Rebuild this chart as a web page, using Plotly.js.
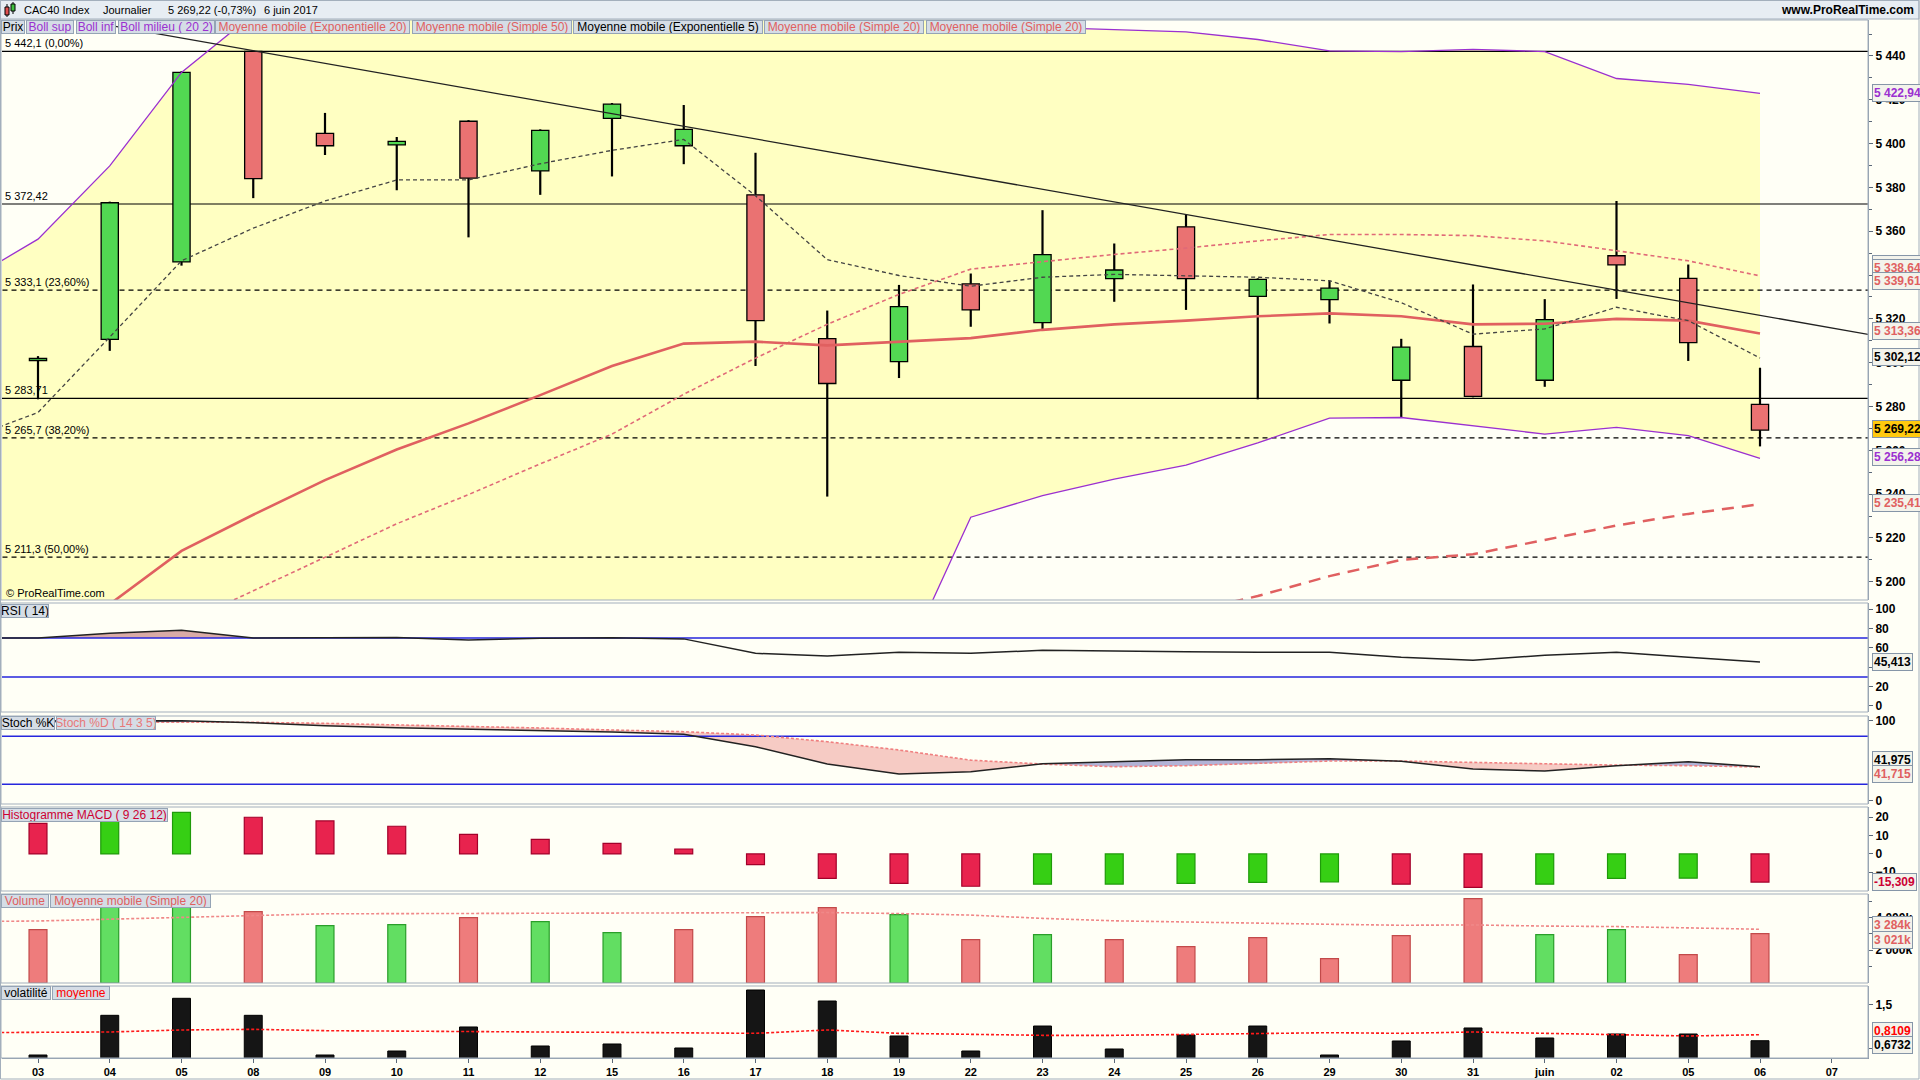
<!DOCTYPE html>
<html><head><meta charset="utf-8">
<script src="https://cdn.plot.ly/plotly-3.0.1.min.js"></script>
<style>html,body{margin:0;padding:0;background:#fffff6;overflow:hidden}#chart{width:1920px;height:1080px}</style>
</head><body><div id="chart"></div>
<script>
// ---------- DATA (CAC40 Index, daily, 3 May - 6 June 2017) ----------
const dayLabels = ['03','04','05','08','09','10','11','12','15','16','17','18','19','22','23','24','25','26','29','30','31','juin','02','05','06','07'];
const openP  = [5301,5310.6,5346,5442.1,5404.7,5399.4,5410.2,5387.5,5411.5,5399,5376.6,5311,5300.5,5336,5318.3,5338.4,5362,5330.3,5328.8,5292,5307.4,5292,5348.8,5338.5,5281];
const highP  = [5303,5373.5,5433,5442.1,5414,5403,5410.7,5406.5,5418.5,5417.6,5395.8,5323.8,5335.5,5340.7,5369.6,5354.4,5367.6,5338.5,5337.4,5310.9,5335.7,5329,5373.8,5344.8,5297.7];
const lowP   = [5283.3,5305.4,5344.3,5375.1,5394.8,5378.7,5357.2,5376.6,5385,5390.6,5298.5,5238.9,5293,5316.4,5315.4,5327.8,5324.1,5283.3,5317.9,5274.8,5284.2,5289,5329.1,5300.8,5261.8];
const closeP = [5302,5373,5432.5,5384,5399,5401,5384.2,5406,5418,5406.5,5319.2,5290.5,5325.6,5324.1,5349.3,5342.3,5338.4,5338,5334,5307.1,5284.6,5319.7,5344.6,5309.2,5269.22];
const prevClose = 5304;       // close of the session before 03 (02 mai)

// indicator series: first value = session before 03 (02 mai), then 03 .. 06 juin
const ema5   = [5265,5277.3,5311.7,5346.5,5361.4,5373.8,5383.4,5383.4,5390.8,5396.9,5401.9,5376.2,5347,5339.8,5334.9,5339,5340.3,5339.8,5339,5337.4,5327.4,5313,5315.4,5325.3,5319.2,5302.12];
const sma20  = [5145,5155,5168,5180.6,5195.9,5211.3,5226.5,5239.8,5253.8,5267.4,5285.6,5302.1,5317.5,5331.2,5342.7,5346.1,5349.4,5352.3,5355.6,5358.5,5358.5,5358,5355.6,5351.1,5346.5,5339.61];
const ema20  = [5165,5176,5189.8,5214.1,5230.6,5246.4,5260.4,5272.3,5285.2,5298.5,5308.7,5309.6,5307.9,5309.6,5311.2,5315,5317.5,5319.2,5321.2,5322.5,5321.2,5317.5,5317.8,5320,5319.2,5313.36];
const bollSup= [5337,5356.4,5389.8,5432.5,5459,5470,5478,5484,5490,5495,5500,5505,5506,5504,5456,5453,5452,5451,5447.5,5442.3,5442,5443,5442,5429.7,5427,5422.94];
const bollInf= [4953,4954,4946,4929,4933,4953,4975,4996,5018,5040,5071,5099,5129,5158,5229.5,5239.3,5246.9,5253.3,5263.4,5274.7,5275,5271.2,5267.4,5270.5,5266.7,5256.28];
const bollMidOther = 5338.64;  // Boll milieu / 2nd SMA20 labels
// SMA50: last 10 sessions (24 mai .. 06 juin)
const sma50  = [5179,5186,5193.5,5202.6,5210,5212.6,5219.1,5225.7,5231,5235.41];

// horizontal levels (Fibonacci / supports)
const hLevels = [5442.1,5372.42,5333.1,5283.71,5265.7,5211.3];
const hTexts  = ['5 442,1 (0,00%)','5 372,42','5 333,1 (23,60%)','5 283,71','5 265,7 (38,20%)','5 211,3 (50,00%)'];
const hDashed = [false,false,true,false,true,true];
// trend line (session index, price)
const trendX = [1.0, 25.6];
const trendY = [5453.9, 5312.4];

// RSI(14) and stochastic (first value = 02 mai)
const rsi    = [69.8,70.2,74.9,78,70.2,70.3,70.5,68,69.8,70.4,69.2,54.3,51.5,55.3,54.3,57.4,56.4,56,55.3,55.3,50.2,47.1,52.3,55.3,50.2,45.413];
const stochK = [99,99,99.5,99.5,97,93.3,90.8,89.1,87,85.4,82.5,67,45.4,32.9,35.8,45.8,48.3,50.8,50.8,52,48.8,39.1,36.6,43.3,48.3,41.975];
const stochD = [95,96.2,97.5,97.5,97.5,96.2,94.5,92.5,90.4,87.9,85.8,81.6,73.3,62.9,50.2,45.3,42,43.3,45.8,49.1,49.1,47.4,45.8,44,43.3,41.715];
// MACD histogram (03 .. 06)
const macdPrev = 18;
const macd   = [16.7,19,22.7,20,18,15.1,10.7,8,5.8,2.7,-5.8,-13.3,-16,-17.6,-16.5,-16.4,-16,-15.5,-15.3,-16.5,-18.2,-16.5,-13.3,-13.2,-15.309];
// Volume in thousands (03 .. 06) and its SMA20 (02 mai .. 06)
const volume = [3266,4900,5000,4367,3511,3572,4000,3755,3083,3266,4061,4612,4183,2654,2960,2654,2226,2777,1492,2899,5162,2960,3266,1737,3021];
const volMA  = [3750,3790,3900,4000,4100,4230,4240,4250,4245,4240,4250,4265,4306,4245,4150,3950,3800,3730,3680,3590,3530,3550,3480,3450,3370,3284];
// Volatility (03 .. 06) and its average (02 mai .. 06)
const volat  = [0.345,1.257,1.648,1.257,0.345,0.437,0.989,0.552,0.598,0.506,1.839,1.586,0.782,0.437,1.011,0.483,0.805,1.011,0.345,0.667,0.966,0.736,0.828,0.828,0.6732];
const volatMA= [0.858,0.858,0.874,0.92,0.935,0.904,0.889,0.889,0.874,0.866,0.858,0.843,0.92,0.843,0.82,0.797,0.797,0.812,0.843,0.858,0.843,0.874,0.843,0.82,0.782,0.8109];

// ---------- GEOMETRY ----------
const FONT = 'Liberation Sans, Arial, sans-serif';
const W=1920,H=1080,ML=2,MR=52,MT=0,MB=22;
const PW=W-ML-MR, PH=H-MT-MB;
const px2p = px => (px-ML)/PW;
const py2p = py => (H-MB-py)/PH;
const dom = (top,bot) => [py2p(bot), py2p(top)];

const idx = closeP.map((_,i)=>i);
const idxInd = [idx[0]-1].concat(idx);
const idxSma50 = sma50.map((_,k)=>closeP.length - sma50.length + k);
const labelIdx = dayLabels.map((_,i)=>i);
const farX = [idxInd[0]-1, dayLabels.length+1];

function fr(v, d){ // french number format
  const s = Math.abs(v).toFixed(d).split('.');
  const int = s[0].replace(/\B(?=(\d{3})+(?!\d))/g,' ');
  return (v<0?'-':'') + int + (s[1]?','+s[1]:'');
}

const GREEN='#52D852', RED='#EA7272', PURPLE='#9B30D0', BLUE='#2626DD';
const traces = [];
const shapes = [];

// ---- main panel: Bollinger area and levels (drawn beneath the traces) ----
let bandPath = 'M' + idxInd.map((x,k)=>x+','+bollSup[k]).join(' L');
bandPath += ' L' + idxInd.map((x,k)=>x+','+bollInf[k]).reverse().join(' L') + ' Z';
shapes.push({type:'path',xref:'x',yref:'y',path:bandPath,fillcolor:'#FFFFC2',line:{width:0},layer:'below'});
hLevels.forEach((lv,k)=>shapes.push({type:'line',xref:'x',yref:'y',x0:farX[0],x1:farX[1],y0:lv,y1:lv,layer:'below',
  line:{color:'#000',width:1.2,dash:hDashed[k]?'5px,4px':'solid'}}));

// candle bodies
traces.push({type:'bar',x:idx,base:idx.map(i=>Math.min(openP[i],closeP[i])),
  y:idx.map(i=>Math.max(Math.abs(closeP[i]-openP[i]),0.6)),width:0.24,
  marker:{color:idx.map(i=>closeP[i]>=openP[i]?GREEN:RED),line:{color:'#000',width:1.3}},yaxis:'y'});
// wicks (outside the bodies)
const wx=[],wy=[];
idx.forEach(i=>{
  const top=Math.max(openP[i],closeP[i]), bot=Math.min(openP[i],closeP[i]);
  if(highP[i]>top){wx.push(i,i,null);wy.push(top,highP[i],null);}
  if(lowP[i]<bot){wx.push(i,i,null);wy.push(lowP[i],bot,null);}
});
traces.push({type:'scatter',mode:'lines',x:wx,y:wy,line:{color:'#000',width:2.2},yaxis:'y'});
// moving averages
traces.push({type:'scatter',mode:'lines',x:idxSma50,y:sma50,line:{color:'#E06060',width:2.5,dash:'12px,8px'},yaxis:'y'});
traces.push({type:'scatter',mode:'lines',x:idxInd,y:sma20,line:{color:'#E06A78',width:1.6,dash:'4px,3px'},yaxis:'y'});
traces.push({type:'scatter',mode:'lines',x:idxInd,y:ema20,line:{color:'#E06060',width:2.6},yaxis:'y'});
traces.push({type:'scatter',mode:'lines',x:idxInd,y:ema5,line:{color:'#444',width:1.3,dash:'4px,3px'},yaxis:'y'});
traces.push({type:'scatter',mode:'lines',x:idxInd,y:bollSup,line:{color:PURPLE,width:1.3},yaxis:'y'});
traces.push({type:'scatter',mode:'lines',x:idxInd,y:bollInf,line:{color:PURPLE,width:1.3},yaxis:'y'});
traces.push({type:'scatter',mode:'lines',x:trendX,y:trendY,line:{color:'#222',width:1.3},yaxis:'y'});

// ---- helper for fills between two series ----
function regionsAbove(xs,a,b){
  const polys=[];let cur=null;
  for(let i=0;i<xs.length;i++){
    const d=a[i]-b[i];
    if(i>0){
      const dp=a[i-1]-b[i-1];
      if((dp>0)!==(d>0) && dp!==d){
        const t=dp/(dp-d), xc=xs[i-1]+t*(xs[i]-xs[i-1]), yc=a[i-1]+t*(a[i]-a[i-1]);
        if(cur){cur.x.push(xc);cur.t.push(yc);cur.b.push(yc);polys.push(cur);cur=null;}
        else cur={x:[xc],t:[yc],b:[yc]};
      }
    }
    if(d>0){if(!cur)cur={x:[],t:[],b:[]};cur.x.push(xs[i]);cur.t.push(a[i]);cur.b.push(b[i]);}
  }
  if(cur)polys.push(cur);
  return polys;
}
function polyTraces(polys,color,yaxis){
  return polys.map(p=>({type:'scatter',mode:'lines',x:p.x.concat(p.x.slice().reverse()),
    y:p.t.concat(p.b.slice().reverse()),fill:'toself',fillcolor:color,line:{width:0},hoverinfo:'skip',yaxis}));
}

// ---- RSI ----
const rsiHigh=70, rsiLow=30;
polyTraces(regionsAbove(idxInd,rsi,rsi.map(()=>rsiHigh)),'#D9ABA6','y2').forEach(t=>traces.push(t));
[rsiHigh,rsiLow].forEach(l=>traces.push({type:'scatter',mode:'lines',x:farX,y:[l,l],line:{color:BLUE,width:1.5},yaxis:'y2'}));
traces.push({type:'scatter',mode:'lines',x:idxInd,y:rsi,line:{color:'#222',width:1.5},yaxis:'y2'});

// ---- Stochastic ----
const stHigh=80, stLow=20;
polyTraces(regionsAbove(idxInd,stochD,stochK),'#F6CBC4','y3').forEach(t=>traces.push(t));
polyTraces(regionsAbove(idxInd,stochK,stochD),'#B3B3D6','y3').forEach(t=>traces.push(t));
[stHigh,stLow].forEach(l=>traces.push({type:'scatter',mode:'lines',x:farX,y:[l,l],line:{color:BLUE,width:1.5},yaxis:'y3'}));
traces.push({type:'scatter',mode:'lines',x:idxInd,y:stochD,line:{color:'#F08080',width:1.6,dash:'3px,2px'},yaxis:'y3'});
traces.push({type:'scatter',mode:'lines',x:idxInd,y:stochK,line:{color:'#222',width:1.5},yaxis:'y3'});

// ---- MACD histogram ----
const macdUp = macd.map((v,i)=>v>(i?macd[i-1]:macdPrev));
traces.push({type:'bar',x:idx,y:macd,width:0.25,
  marker:{color:macdUp.map(u=>u?'#36CF14':'#E8234E'),line:{color:macdUp.map(u=>u?'#1F9A0A':'#A3002A'),width:1.2}},yaxis:'y4'});

// ---- Volume ----
const volUp = closeP.map((c,i)=>c>=(i?closeP[i-1]:prevClose));
traces.push({type:'bar',x:idx,y:volume,width:0.25,
  marker:{color:volUp.map(u=>u?'#62DE62':'#EE7C7C'),line:{color:volUp.map(u=>u?'#2A9E2A':'#C24A4A'),width:1.2}},yaxis:'y5'});
traces.push({type:'scatter',mode:'lines',x:idxInd,y:volMA,line:{color:'#F08888',width:1.6,dash:'3px,2px'},yaxis:'y5'});

// ---- Volatility ----
traces.push({type:'bar',x:idx,y:volat,width:0.25,marker:{color:'#151515',line:{color:'#000',width:1}},yaxis:'y6'});
traces.push({type:'scatter',mode:'lines',x:idxInd,y:volatMA,line:{color:'#FF1A1A',width:1.6,dash:'3px,2px'},yaxis:'y6'});

traces.forEach(t=>{t.xaxis='x';t.showlegend=false;if(!t.hoverinfo)t.hoverinfo='skip';});

// ---------- AXES ----------
const axisFont={family:FONT,size:12,color:'#000',weight:'bold'};
function yax(d,range,extra){
  return Object.assign({domain:d,range,side:'right',anchor:'x',showgrid:false,zeroline:false,showline:true,
    linecolor:'#8C9AAA',linewidth:1,ticks:'outside',ticklen:4,tickcolor:'#5A6878',tickfont:axisFont,fixedrange:true},extra||{});
}
const layout={
  width:W,height:H,margin:{l:ML,r:MR,t:MT,b:MB},
  paper_bgcolor:'#FFFFF6',plot_bgcolor:'#FFFFF6',
  separators:', ',barmode:'overlay',hovermode:false,showlegend:false,
  xaxis:{domain:[0,1],range:[-0.5017,25.5052],anchor:'y6',tickmode:'array',tickvals:labelIdx,ticktext:dayLabels,
    ticks:'outside',ticklen:4,tickcolor:'#5A6878',showline:true,linecolor:'#8C9AAA',showgrid:false,zeroline:false,
    tickfont:{family:FONT,size:11,color:'#000',weight:'bold'},fixedrange:true},
  yaxis:yax(dom(20,600),[5191.7,5456.4],{tickmode:'linear',tick0:5200,dtick:20,separatethousands:true,
    minor:{ticks:'outside',ticklen:3,dtick:10,tick0:5200,tickcolor:'#5A6878'}}),
  yaxis2:yax(dom(603,712),[-6.2,106.2],{tickmode:'array',tickvals:[0,20,40,60,80,100]}),
  yaxis3:yax(dom(716,804),[-4.6,105.4],{tickmode:'array',tickvals:[0,100]}),
  yaxis4:yax(dom(807,891),[-20.2,25.6],{tickmode:'array',tickvals:[-10,0,10,20]}),
  yaxis5:yax(dom(894,983),[0,5440],{tickmode:'array',tickvals:[2000,4000],ticktext:['2 000k','4 000k'],
    minor:{ticks:'outside',ticklen:3,tickvals:[1000,3000,5000],tickcolor:'#5A6878'}}),
  yaxis6:yax(dom(986,1058),[0.276,1.931],{tickmode:'array',tickvals:[0.5,1.5],ticktext:['0,5','1,5']}),
  shapes:shapes,annotations:[]
};

// ---------- FRAME / PANELS ----------
const S=layout.shapes, A=layout.annotations;
function rectPx(x0,y0,x1,y1,fill,line){
  S.push({type:'rect',xref:'paper',yref:'paper',x0:px2p(x0),x1:px2p(x1),y0:py2p(y1),y1:py2p(y0),
    fillcolor:fill||'rgba(0,0,0,0)',line:{color:line||'#A3AFBC',width:1},layer:'above'});
}
rectPx(0,0,1919,19,'#E7EDF3','#A3AFBC');
[[20,600],[603,712],[716,804],[807,891],[894,983],[986,1058]].forEach(p=>rectPx(1,p[0],1868,p[1],null,'#A3AFBC'));
rectPx(0.5,0.5,1919,1079,null,'#A3AFBC');
// little candle icon in the title bar
S.push({type:'line',xref:'paper',yref:'paper',x0:px2p(7),x1:px2p(7),y0:py2p(17),y1:py2p(4),line:{color:'#000',width:1}});
rectPx(5,7,9,15,'#E05050','#000');
S.push({type:'line',xref:'paper',yref:'paper',x0:px2p(13),x1:px2p(13),y0:py2p(14),y1:py2p(2),line:{color:'#000',width:1}});
rectPx(11,4,15,11,'#40C040','#000');

// ---------- TEXTS ----------
function txt(t,xpx,ypx,opt){
  A.push(Object.assign({xref:'paper',yref:'paper',x:px2p(xpx),y:py2p(ypx),xanchor:'left',yanchor:'middle',
    text:t,showarrow:false,font:{family:FONT,size:12,color:'#000'}},opt||{}));
}
const tf={family:FONT,size:11,color:'#000'};
txt('CAC40 Index',22,10,{font:tf});
txt('Journalier',101,10,{font:tf});
txt(fr(closeP[closeP.length-1],2)+' (-0,73%)',166,10,{font:tf});
txt('6 juin 2017',262,10,{font:tf});
txt('www.ProRealTime.com',1916,10,{xanchor:'right',font:{family:FONT,size:12,color:'#000',weight:'bold'}});

function tag(t,x0,w,yc,color){
  A.push({xref:'paper',yref:'paper',x:px2p(x0),y:py2p(yc),xanchor:'left',yanchor:'middle',text:t,showarrow:false,
    font:{family:FONT,size:12,color},bgcolor:'#D5DDE6',bordercolor:'#95A4B5',borderwidth:1,borderpad:0,width:w-2,height:12,align:'center'});
}
const legendTop=[['Prix',1,24,'#000'],['Boll sup',26,48,PURPLE],['Boll inf',76,40,PURPLE],['Boll milieu ( 20 2)',118,97,PURPLE],
  ['Moyenne mobile (Exponentielle 20)',215,195,'#E06060'],['Moyenne mobile (Simple 50)',412,160,'#E06060'],
  ['Moyenne mobile (Exponentielle 5)',573,190,'#000'],['Moyenne mobile (Simple 20)',764,160,'#E06060'],
  ['Moyenne mobile (Simple 20)',926,160,'#E06060']];
legendTop.forEach(l=>tag(l[0],l[1],l[2],27,l[3]));
tag('RSI ( 14)',1,48,611,'#000');
tag('Stoch %K',1,54,723,'#000');
tag('Stoch %D ( 14 3 5)',56,100,723,'#E87878');
tag('Histogramme MACD ( 9 26 12)',1,167,815,'#CC0033');
tag('Volume',1,48,901,'#E06060');
tag('Moyenne mobile (Simple 20)',50,161,901,'#E06060');
tag('volatilité',1,50,993,'#000');
tag('moyenne',52,58,993,'#FF0000');

// level labels
hLevels.forEach((lv,k)=>A.push({xref:'paper',yref:'y',x:px2p(3),y:lv,xanchor:'left',yanchor:'bottom',yshift:0,
  text:hTexts[k],showarrow:false,font:{family:FONT,size:11,color:'#000'}}));
txt('© ProRealTime.com',4,593,{font:{family:FONT,size:11,color:'#000'}});

// right-axis value boxes
function vbox(t,yref,y,color,bg,yshift){
  A.push({xref:'paper',x:1,xanchor:'left',xshift:4,yref,y,yanchor:'middle',yshift:yshift||0,text:t,showarrow:false,
    font:{family:FONT,size:12,color,weight:'bold'},bgcolor:bg||'#F3F3EB',bordercolor:'#8696A8',borderwidth:1,borderpad:1});
}
const L=a=>a[a.length-1];
vbox(fr(L(bollSup),2),'y',L(bollSup),PURPLE);
vbox(fr(bollMidOther,2),'y',bollMidOther,PURPLE,null,14);
vbox(fr(bollMidOther,2),'y',bollMidOther,'#E06060',null,10);
vbox(fr(L(sma20),2),'y',L(sma20),'#E06060',null,-5);
vbox(fr(L(ema20),2),'y',L(ema20),'#E06060',null,2);
vbox(fr(L(ema5),2),'y',L(ema5),'#000',null,1);
vbox(fr(L(closeP),2),'y',L(closeP),'#000','#FFC90E',1);
vbox(fr(L(bollInf),2),'y',L(bollInf),PURPLE,null,1);
vbox(fr(L(sma50),2),'y',L(sma50),'#E06060',null,1);
vbox(fr(L(rsi),3),'y2',L(rsi),'#000');
vbox(fr(L(stochK),3),'y3',L(stochK),'#000',null,7);
vbox(fr(L(stochD),3),'y3',L(stochD),'#E06060',null,-7);
vbox(fr(L(macd),3),'y4',L(macd),'#CC0033');
vbox(fr(L(volMA),0)+'k','y5',L(volMA),'#E06060',null,4);
vbox(fr(L(volume),0)+'k','y5',L(volume),'#E06060',null,-6);
vbox(fr(L(volatMA),4),'y6',L(volatMA),'#FF0000',null,4);
vbox(fr(L(volat),4),'y6',L(volat),'#000',null,-4);

Plotly.newPlot('chart',traces,layout,{staticPlot:true,displayModeBar:false});
</script></body></html>
